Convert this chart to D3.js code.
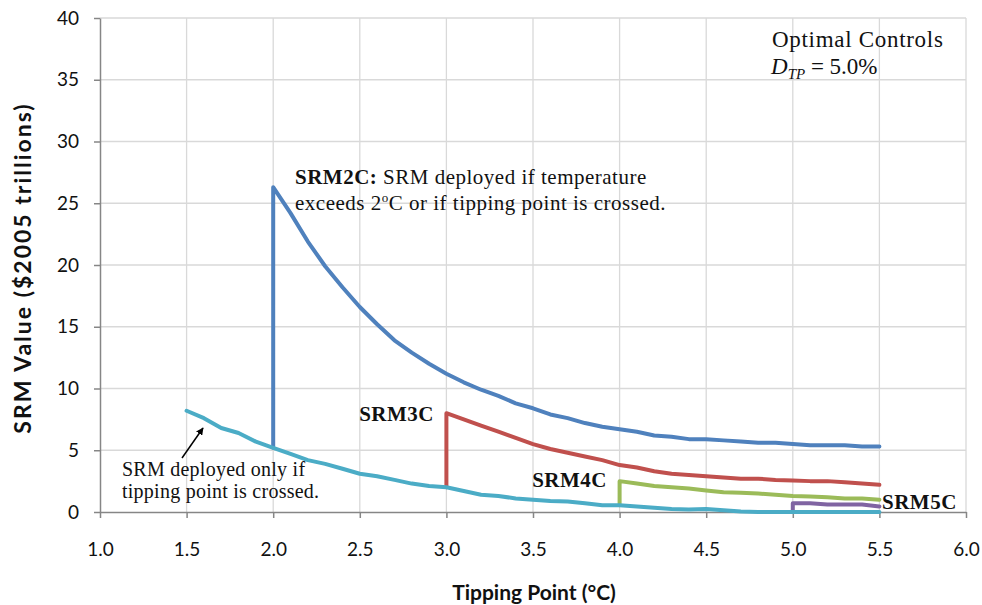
<!DOCTYPE html>
<html>
<head>
<meta charset="utf-8">
<script src="https://cdn.jsdelivr.net/npm/d3@7/dist/d3.min.js"></script>
<style>
  body { margin: 0; background: #fff; }
  .tick text { font-family: Lato, "Open Sans", sans-serif; font-size: 19px; fill: #111; }
  .note { font-family: "Liberation Serif", "DejaVu Serif", serif; font-size: 21px; fill: #111; letter-spacing: 0.5px; }
</style>
</head>
<body>
<div id="chart"></div>
<script>
// x values (tipping point, degC) and SRM value ($2005 trillions)
const baseX = [1.5,1.6,1.7,1.8,1.9,2.0,2.1,2.2,2.3,2.4,2.5,2.6,2.7,2.8,2.9,3.0,3.1,3.2,3.3,3.4,3.5,3.6,3.7,3.8,3.9,4.0,4.1,4.2,4.3,4.4,4.5,4.6,4.7,4.8,4.9,5.0,5.1,5.2,5.3,5.4,5.5];
const baseY = [8.2,7.6,6.8,6.4,5.7,5.2,4.7,4.2,3.9,3.5,3.1,2.9,2.6,2.3,2.1,2.0,1.7,1.4,1.3,1.1,1.0,0.9,0.85,0.7,0.55,0.55,0.45,0.35,0.25,0.2,0.25,0.15,0.05,0,0,0,0,0,0,0,0];

const srm2X = [2.0,2.0,2.1,2.2,2.3,2.4,2.5,2.6,2.7,2.8,2.9,3.0,3.1,3.2,3.3,3.4,3.5,3.6,3.7,3.8,3.9,4.0,4.1,4.2,4.3,4.4,4.5,4.6,4.7,4.8,4.9,5.0,5.1,5.2,5.3,5.4,5.5];
const srm2Y = [5.2,26.3,24.2,21.9,19.9,18.2,16.6,15.2,13.9,12.9,12.0,11.2,10.5,9.9,9.4,8.8,8.4,7.9,7.6,7.2,6.9,6.7,6.5,6.2,6.1,5.9,5.9,5.8,5.7,5.6,5.6,5.5,5.4,5.4,5.4,5.3,5.3];

const srm3X = [3.0,3.0,3.1,3.2,3.3,3.4,3.5,3.6,3.7,3.8,3.9,4.0,4.1,4.2,4.3,4.4,4.5,4.6,4.7,4.8,4.9,5.0,5.1,5.2,5.3,5.4,5.5];
const srm3Y = [2.0,8.0,7.5,7.0,6.5,6.0,5.5,5.1,4.8,4.5,4.2,3.8,3.6,3.3,3.1,3.0,2.9,2.8,2.7,2.7,2.6,2.55,2.5,2.5,2.4,2.3,2.2];

const srm4X = [4.0,4.0,4.1,4.2,4.3,4.4,4.5,4.6,4.7,4.8,4.9,5.0,5.1,5.2,5.3,5.4,5.5];
const srm4Y = [0.55,2.5,2.3,2.1,2.0,1.9,1.75,1.6,1.55,1.5,1.4,1.3,1.25,1.2,1.1,1.1,1.0];

const srm5X = [5.0,5.0,5.1,5.2,5.3,5.4,5.5];
const srm5Y = [0,0.7,0.7,0.6,0.6,0.6,0.45];

const xTicks = [1.0,1.5,2.0,2.5,3.0,3.5,4.0,4.5,5.0,5.5,6.0];
const yTicks = [0,5,10,15,20,25,30,35,40];

const series = [
  { xs: srm2X, ys: srm2Y, color: "#4f81bd" },
  { xs: srm3X, ys: srm3Y, color: "#c0504d" },
  { xs: srm4X, ys: srm4Y, color: "#9bbb59" },
  { xs: srm5X, ys: srm5Y, color: "#8064a2" },
  { xs: baseX, ys: baseY, color: "#4bacc6" }
];

const width = 982, height = 605;
const margin = { top: 18, left: 100, right: 16, bottom: 93 };

const svg = d3.select("#chart").append("svg")
  .attr("width", width).attr("height", height);

const x = d3.scaleLinear().domain([1, 6]).range([margin.left, width - margin.right]);
const y = d3.scaleLinear().domain([0, 40]).range([height - margin.bottom, margin.top]);

// gridlines
svg.append("g").selectAll("line")
  .data(xTicks.slice(1))
  .join("line")
    .attr("x1", d => x(d)).attr("x2", d => x(d))
    .attr("y1", y(0)).attr("y2", y(40))
    .attr("stroke", "#d9d9d9").attr("stroke-width", 1.3);
svg.append("g").selectAll("line")
  .data(yTicks.slice(1))
  .join("line")
    .attr("x1", x(1)).attr("x2", x(6))
    .attr("y1", d => y(d)).attr("y2", d => y(d))
    .attr("stroke", "#d9d9d9").attr("stroke-width", 1.3);

// axes
const xAxis = svg.append("g")
  .attr("transform", `translate(0,${y(0)})`)
  .call(d3.axisBottom(x).tickValues(xTicks).tickFormat(d3.format(".1f")).tickSize(6).tickPadding(25).tickSizeOuter(0));
const yAxis = svg.append("g")
  .attr("transform", `translate(${x(1)},0)`)
  .call(d3.axisLeft(y).tickValues(yTicks).tickSize(6).tickPadding(15).tickSizeOuter(0));
[xAxis, yAxis].forEach(a => {
  a.select(".domain").attr("stroke", "#868686").attr("stroke-width", 1.5);
  a.selectAll(".tick line").attr("stroke", "#868686").attr("stroke-width", 1.5);
});

// lines
const line = d3.line().x(d => x(d[0])).y(d => y(d[1]));
series.forEach(s => {
  svg.append("path")
    .datum(s.xs.map((v, i) => [v, s.ys[i]]))
    .attr("fill", "none")
    .attr("stroke", s.color)
    .attr("stroke-width", 4)
    .attr("stroke-linejoin", "round")
    .attr("stroke-linecap", "round")
    .attr("d", line);
});

// axis titles
svg.append("text")
  .attr("x", 534).attr("y", 600)
  .attr("text-anchor", "middle")
  .style("font", "bold 21px Lato, sans-serif").attr("fill", "#111")
  .text("Tipping Point (°C)");
svg.append("text")
  .attr("transform", `translate(31,268) rotate(-90)`)
  .attr("text-anchor", "middle")
  .style("font", "bold 23px Lato, sans-serif").style("letter-spacing", "2px").attr("fill", "#111")
  .text("SRM Value ($2005 trillions)");

// annotations
const n1 = svg.append("text").attr("class", "note").attr("x", 295).attr("y", 184);
n1.append("tspan").attr("font-weight", "bold").text("SRM2C:");
n1.append("tspan").text(" SRM deployed if temperature");
const n2 = svg.append("text").attr("class", "note").attr("x", 295).attr("y", 210);
n2.append("tspan").text("exceeds 2");
n2.append("tspan").attr("font-size", 13).attr("dy", -8).text("o");
n2.append("tspan").attr("dy", 8).text("C or if tipping point is crossed.");

svg.append("text").attr("class", "note").attr("x", 434).attr("y", 421)
  .attr("text-anchor", "end").attr("font-weight", "bold").text("SRM3C");
svg.append("text").attr("class", "note").attr("x", 607).attr("y", 487)
  .attr("text-anchor", "end").attr("font-weight", "bold").text("SRM4C");
svg.append("text").attr("class", "note").attr("x", 882).attr("y", 509)
  .attr("font-weight", "bold").text("SRM5C");

svg.append("text").attr("class", "note").attr("x", 122).attr("y", 476)
  .style("font-size", "20px").style("letter-spacing", "0.25px").text("SRM deployed only if");
svg.append("text").attr("class", "note").attr("x", 122).attr("y", 498)
  .style("font-size", "20px").style("letter-spacing", "0.25px").text("tipping point is crossed.");

svg.append("defs").append("marker")
  .attr("id", "arrow").attr("viewBox", "0 0 10 10")
  .attr("refX", 9).attr("refY", 5)
  .attr("markerWidth", 5).attr("markerHeight", 5)
  .attr("orient", "auto")
  .append("path").attr("d", "M0,0L10,5L0,10z").attr("fill", "#000");
svg.append("line")
  .attr("x1", 182).attr("y1", 458).attr("x2", 203).attr("y2", 428)
  .attr("stroke", "#000").attr("stroke-width", 1.5)
  .attr("marker-end", "url(#arrow)");

svg.append("text").attr("class", "note").attr("x", 772).attr("y", 47)
  .style("font-size", "23px").style("letter-spacing", "0.7px").text("Optimal Controls");
const dtp = svg.append("text").attr("class", "note").attr("x", 771).attr("y", 74)
  .style("font-size", "23px").style("letter-spacing", "0px");
dtp.append("tspan").attr("font-style", "italic").text("D");
dtp.append("tspan").attr("font-style", "italic").attr("font-size", 15).attr("dy", 5).text("TP");
dtp.append("tspan").attr("dy", -5).text(" = 5.0%");
</script>
</body>
</html>
